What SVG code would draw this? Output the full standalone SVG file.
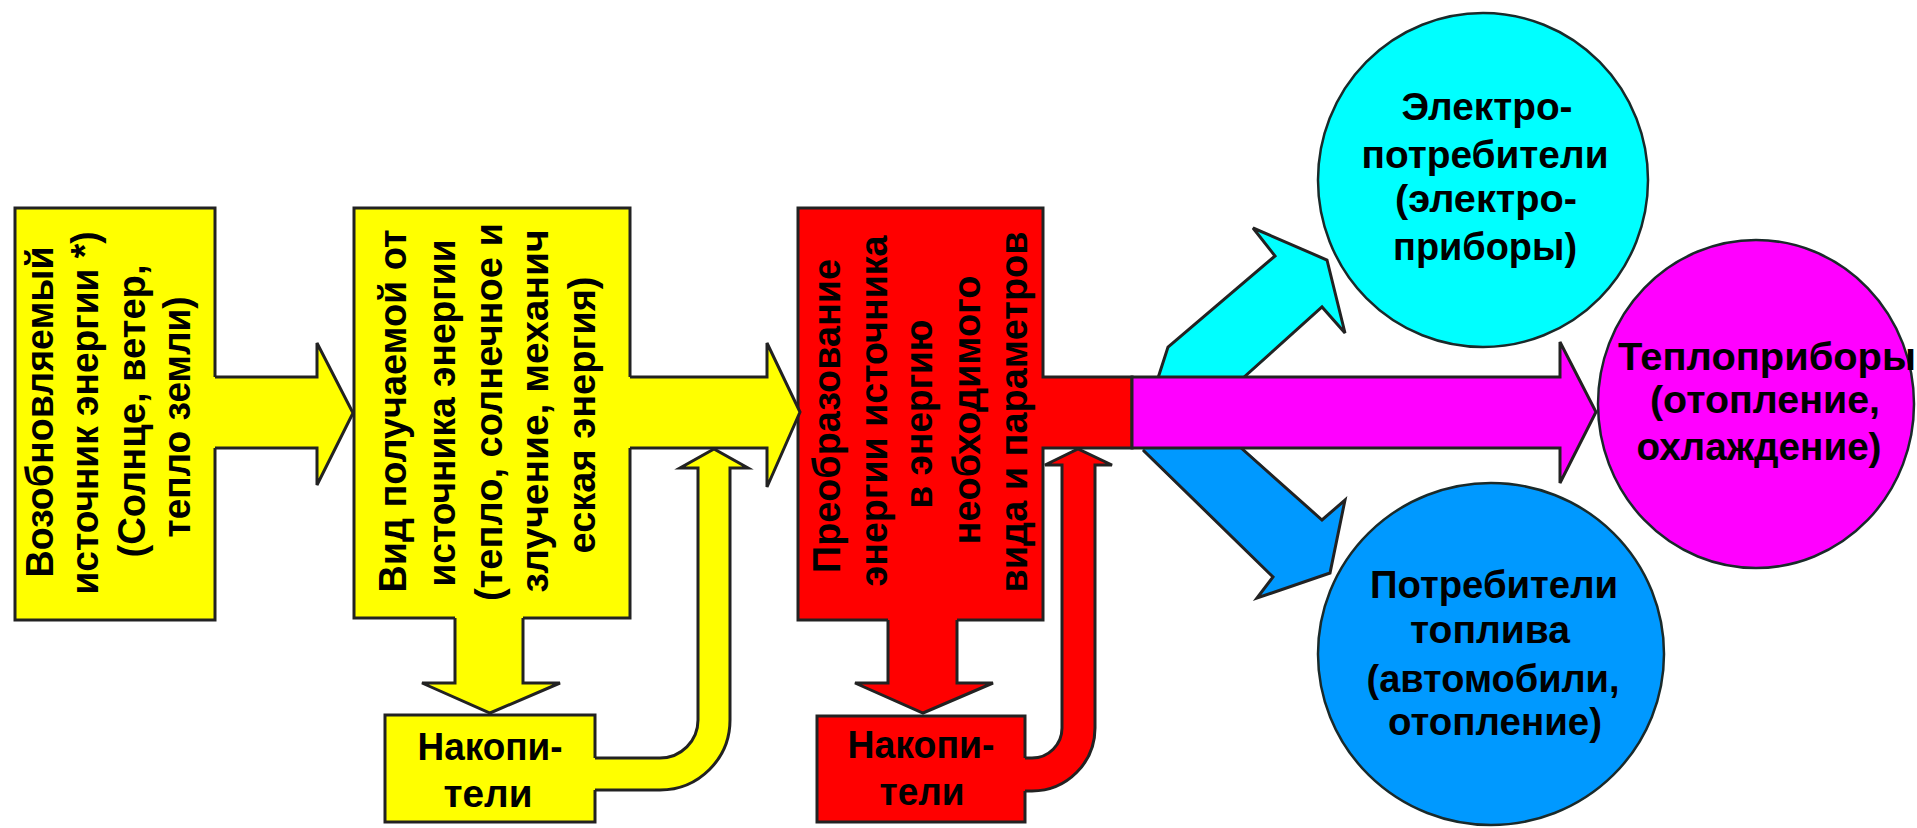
<svg xmlns="http://www.w3.org/2000/svg" width="1917" height="828" viewBox="0 0 1917 828">
<style>
.t{font-family:"Liberation Sans",Arial,sans-serif;font-weight:bold;font-size:38px;fill:#000;text-anchor:middle}
.ol{fill:none;stroke:#222;stroke-width:3;stroke-linejoin:miter}
.box{stroke:#222;stroke-width:3}
.ell{stroke:#1a2a2a;stroke-width:2.5}
.y{fill:#FFFF00}.r{fill:#FF0000}.m{fill:#FF00FF}.c{fill:#00FFFF}.b{fill:#0099FF}
</style>
<rect width="1917" height="828" fill="#fff"/>

<g id="node-source">
<rect class="box y" x="15" y="208" width="200" height="412"/>
<text class="t" transform="translate(53,412) rotate(-90)" textLength="331" lengthAdjust="spacingAndGlyphs">Возобновляемый</text>
<text class="t" transform="translate(98,413) rotate(-90)" textLength="363" lengthAdjust="spacingAndGlyphs">источник энергии *)</text>
<text class="t" transform="translate(145,411) rotate(-90)" textLength="293" lengthAdjust="spacingAndGlyphs">(Солнце, ветер,</text>
<text class="t" transform="translate(190,417) rotate(-90)" textLength="241" lengthAdjust="spacingAndGlyphs">тепло земли)</text>
</g>

<g id="node-kind">
<rect class="box y" x="354" y="208" width="276" height="410"/>
<text class="t" transform="translate(406,411) rotate(-90)" textLength="363" lengthAdjust="spacingAndGlyphs">Вид получаемой от</text>
<text class="t" transform="translate(455,413) rotate(-90)" textLength="347" lengthAdjust="spacingAndGlyphs">источника энергии</text>
<text class="t" transform="translate(502,412) rotate(-90)" textLength="378" lengthAdjust="spacingAndGlyphs">(тепло, солнечное и</text>
<text class="t" transform="translate(548,411) rotate(-90)" textLength="363" lengthAdjust="spacingAndGlyphs">злучение,  механич</text>
<text class="t" transform="translate(595,415) rotate(-90)" textLength="277" lengthAdjust="spacingAndGlyphs">еская энергия)</text>
</g>

<g id="node-convert">
<path class="box r" d="M798,208 H1043 V377 H1132 V448 H1043 V620 H798 Z"/>
<text class="t" transform="translate(840,416) rotate(-90)" textLength="314" lengthAdjust="spacingAndGlyphs">Преобразование</text>
<text class="t" transform="translate(887,411) rotate(-90)" textLength="351" lengthAdjust="spacingAndGlyphs">энергии источника</text>
<text class="t" transform="translate(932,414) rotate(-90)" textLength="189" lengthAdjust="spacingAndGlyphs">в энергию</text>
<text class="t" transform="translate(980,410) rotate(-90)" textLength="269" lengthAdjust="spacingAndGlyphs">необходимого</text>
<text class="t" transform="translate(1027,412) rotate(-90)" textLength="361" lengthAdjust="spacingAndGlyphs">вида и параметров</text>
</g>

<g id="node-store1">
<rect class="box y" x="385" y="715" width="210" height="107"/>
<text class="t" x="490" y="760" textLength="145" lengthAdjust="spacingAndGlyphs">Накопи-</text>
<text class="t" x="488" y="807" textLength="89" lengthAdjust="spacingAndGlyphs">тели</text>
</g>

<g id="node-store2">
<rect class="box r" x="817" y="716" width="208" height="106"/>
<text class="t" x="921" y="758" textLength="147" lengthAdjust="spacingAndGlyphs">Накопи-</text>
<text class="t" x="922" y="805" textLength="85" lengthAdjust="spacingAndGlyphs">тели</text>
</g>

<g id="node-electro">
<ellipse class="ell c" cx="1483" cy="180" rx="165" ry="167"/>
<text class="t" x="1487" y="120" textLength="171" lengthAdjust="spacingAndGlyphs">Электро-</text>
<text class="t" x="1485" y="168" textLength="247" lengthAdjust="spacingAndGlyphs">потребители</text>
<text class="t" x="1486" y="212" textLength="182" lengthAdjust="spacingAndGlyphs">(электро-</text>
<text class="t" x="1485" y="260" textLength="184" lengthAdjust="spacingAndGlyphs">приборы)</text>
</g>

<g id="node-heat">
<ellipse class="ell m" cx="1756" cy="404" rx="158" ry="164"/>
<text class="t" x="1767" y="370" textLength="298" lengthAdjust="spacingAndGlyphs">Теплоприборы</text>
<text class="t" x="1765" y="413" textLength="230" lengthAdjust="spacingAndGlyphs">(отопление,</text>
<text class="t" x="1759" y="460" textLength="245" lengthAdjust="spacingAndGlyphs">охлаждение)</text>
</g>

<g id="node-fuel">
<ellipse class="ell b" cx="1491" cy="654" rx="173" ry="171"/>
<text class="t" x="1494" y="598" textLength="248" lengthAdjust="spacingAndGlyphs">Потребители</text>
<text class="t" x="1490" y="643" textLength="160" lengthAdjust="spacingAndGlyphs">топлива</text>
<text class="t" x="1493" y="692" textLength="253" lengthAdjust="spacingAndGlyphs">(автомобили,</text>
<text class="t" x="1495" y="735" textLength="214" lengthAdjust="spacingAndGlyphs">отопление)</text>
</g>

<g id="connectors">
<!-- source -> kind -->
<path class="y" d="M212,377 H317 V343 L353,413 L317,485 V448 H212 Z"/>
<path class="ol" d="M215,377 H317 V343 L353,413 L317,485 V448 H215"/>
<!-- kind -> convert -->
<path class="y" d="M627,377 H767 V343 L800,412 L767,487 V448 H627 Z"/>
<path class="ol" d="M630,377 H767 V343 L800,412 L767,487 V448 H630"/>
<!-- kind -> store1 -->
<path class="y" d="M455,615 H523 V683 H560 L490,713 L422,683 H455 Z"/>
<path class="ol" d="M455,618 V683 H422 L490,713 L560,683 H523 V618"/>
<!-- store1 -> kind/convert (curved up) -->
<path class="y" d="M592,758 H660 A38,38 0 0 0 698,720 V468 H680 L714,449 L748,468 H730 V720 A70,70 0 0 1 660,790 H592 Z"/>
<path class="ol" d="M595,758 H660 A38,38 0 0 0 698,720 V468 H680 L714,449 L748,468 H730 V720 A70,70 0 0 1 660,790 H595"/>
<!-- convert -> store2 -->
<path class="r" d="M888,617 H957 V683 H993 L923,713 L855,683 H888 Z"/>
<path class="ol" d="M888,620 V683 H855 L923,713 L993,683 H957 V620"/>
<!-- store2 -> convert (curved up) -->
<path class="r" d="M1022,758 H1032 A30,30 0 0 0 1062,728 V465 H1045 L1078,449 L1112,465 H1095 V728 A63,63 0 0 1 1032,791 H1022 Z"/>
<path class="ol" d="M1025,758 H1032 A30,30 0 0 0 1062,728 V465 H1045 L1078,449 L1112,465 H1095 V728 A63,63 0 0 1 1032,791 H1025"/>
<!-- convert -> electro -->
<path class="c" d="M1158,380 L1168,347 L1275,256 L1253,228 L1327,260 L1345,333 L1322,307 L1243,380 Z"/>
<path class="ol" d="M1158,378 L1168,347 L1275,256 L1253,228 L1327,260 L1345,333 L1322,307 L1243,378"/>
<!-- convert -> fuel -->
<path class="b" d="M1142,445 L1240,445 L1322,520 L1345,500 L1330,573 L1257,598 L1273,577 L1143,452 Z"/>
<path class="ol" d="M1240,447 L1322,520 L1345,500 L1330,573 L1257,598 L1273,577 L1143,450"/>
<!-- convert -> heat -->
<path class="m" d="M1132,377 H1560 V342 L1596,412 L1560,483 V448 H1132 Z"/>
<path class="ol" d="M1132,377 H1560 V342 L1596,412 L1560,483 V448 H1132 Z"/>
</g>
</svg>
